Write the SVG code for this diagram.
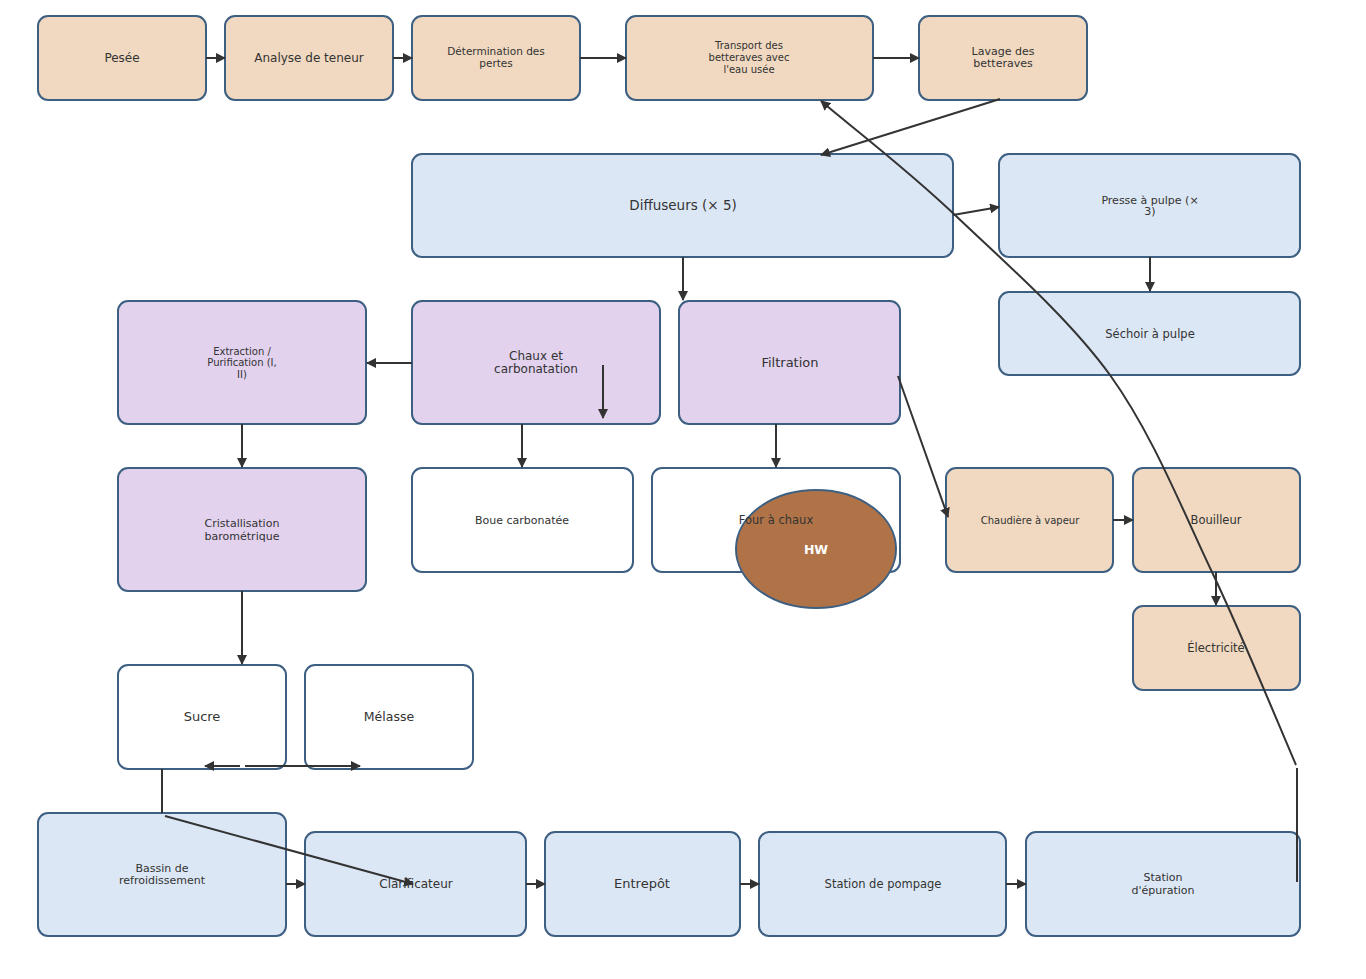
<svg xmlns="http://www.w3.org/2000/svg" width="1366" height="979" viewBox="0 0 1366 979">
<defs>
<marker id="ah" viewBox="0 0 10 10" refX="9" refY="5" markerWidth="10" markerHeight="10" markerUnits="userSpaceOnUse" orient="auto">
<path d="M0,0 L10,5 L0,10 z" fill="#333"/>
</marker>
<style>
.n{stroke:#3d5f82;stroke-width:2}
.o{fill:#f0d9c0}
.b{fill:#dce7f5}
.p{fill:#e2d2ee}
.w{fill:#ffffff}
text{font-family:"DejaVu Sans","Liberation Sans",sans-serif;fill:#333;text-anchor:middle}
.e{fill:none;stroke:#333;stroke-width:2}
</style>
</defs>
<rect width="1366" height="979" fill="#ffffff"/>
<g id="pesee"><rect class="n o" x="38" y="16" width="168" height="84" rx="10"/><text x="122" y="62" font-size="12">Pesée</text></g>
<g id="analyse"><rect class="n o" x="225" y="16" width="168" height="84" rx="10"/><text x="309" y="62" font-size="12">Analyse de teneur</text></g>
<g id="determination"><rect class="n o" x="412" y="16" width="168" height="84" rx="10"/><text x="496" y="55" font-size="10.5">Détermination des</text><text x="496" y="67" font-size="10.5">pertes</text></g>
<g id="transport"><rect class="n o" x="626" y="16" width="247" height="84" rx="10"/><text x="749" y="49" font-size="10">Transport des</text><text x="749" y="61" font-size="10">betteraves avec</text><text x="749" y="73" font-size="10">l'eau usée</text></g>
<g id="lavage"><rect class="n o" x="919" y="16" width="168" height="84" rx="10"/><text x="1003" y="55" font-size="11">Lavage des</text><text x="1003" y="67" font-size="11">betteraves</text></g>
<g id="diffuseurs"><rect class="n b" x="412" y="154" width="541" height="103" rx="10"/><text x="683" y="210" font-size="13.5">Diffuseurs (× 5)</text></g>
<g id="presse"><rect class="n b" x="999" y="154" width="301" height="103" rx="10"/><text x="1150" y="204" font-size="11">Presse à pulpe (×</text><text x="1150" y="215" font-size="11">3)</text></g>
<g id="sechoir"><rect class="n b" x="999" y="292" width="301" height="83" rx="10"/><text x="1150" y="338" font-size="11.5">Séchoir à pulpe</text></g>
<g id="extraction"><rect class="n p" x="118" y="301" width="248" height="123" rx="10"/><text x="242" y="355" font-size="10">Extraction /</text><text x="242" y="366" font-size="10">Purification (I,</text><text x="242" y="378" font-size="10">II)</text></g>
<g id="chaux"><rect class="n p" x="412" y="301" width="248" height="123" rx="10"/><text x="536" y="360" font-size="12">Chaux et</text><text x="536" y="373" font-size="12">carbonatation</text></g>
<g id="filtration"><rect class="n p" x="679" y="301" width="221" height="123" rx="10"/><text x="790" y="367" font-size="13">Filtration</text></g>
<g id="cristallisation"><rect class="n p" x="118" y="468" width="248" height="123" rx="10"/><text x="242" y="527" font-size="11">Cristallisation</text><text x="242" y="540" font-size="11">barométrique</text></g>
<g id="boue"><rect class="n w" x="412" y="468" width="221" height="104" rx="10"/><text x="522" y="524" font-size="11">Boue carbonatée</text></g>
<g id="four"><rect class="n w" x="652" y="468" width="248" height="104" rx="10"/></g>
<g id="hw"><ellipse class="n" cx="816" cy="549" rx="80" ry="59" fill="#b07348"/><text x="816" y="554" font-size="12.5" font-weight="bold" style="fill:#ffffff">HW</text></g>
<g id="four-label"><text x="776" y="524" font-size="11.5">Four à chaux</text></g>
<g id="chaudiere"><rect class="n o" x="946" y="468" width="167" height="104" rx="10"/><text x="1030" y="524" font-size="10">Chaudière à vapeur</text></g>
<g id="bouilleur"><rect class="n o" x="1133" y="468" width="167" height="104" rx="10"/><text x="1216" y="524" font-size="11.5">Bouilleur</text></g>
<g id="electricite"><rect class="n o" x="1133" y="606" width="167" height="84" rx="10"/><text x="1216" y="652" font-size="11.5">Électricité</text></g>
<g id="sucre"><rect class="n w" x="118" y="665" width="168" height="104" rx="10"/><text x="202" y="721" font-size="13">Sucre</text></g>
<g id="melasse"><rect class="n w" x="305" y="665" width="168" height="104" rx="10"/><text x="389" y="721" font-size="12.5">Mélasse</text></g>
<g id="bassin"><rect class="n b" x="38" y="813" width="248" height="123" rx="10"/><text x="162" y="872" font-size="11">Bassin de</text><text x="162" y="884" font-size="11">refroidissement</text></g>
<g id="clarificateur"><rect class="n b" x="305" y="832" width="221" height="104" rx="10"/><text x="416" y="888" font-size="12">Clarificateur</text></g>
<g id="entrepot"><rect class="n b" x="545" y="832" width="195" height="104" rx="10"/><text x="642" y="888" font-size="13">Entrepôt</text></g>
<g id="pompage"><rect class="n b" x="759" y="832" width="247" height="104" rx="10"/><text x="883" y="888" font-size="11.5">Station de pompage</text></g>
<g id="epuration"><rect class="n b" x="1026" y="832" width="274" height="104" rx="10"/><text x="1163" y="881" font-size="11">Station</text><text x="1163" y="894" font-size="11">d'épuration</text></g>
<g id="connectors">
<path class="e" d="M206,58 L225,58" marker-end="url(#ah)"/>
<path class="e" d="M393,58 L412,58" marker-end="url(#ah)"/>
<path class="e" d="M580,58 L626,58" marker-end="url(#ah)"/>
<path class="e" d="M873,58 L919,58" marker-end="url(#ah)"/>
<path class="e" d="M1000,99 L821,155" marker-end="url(#ah)"/>
<path class="e" d="M1296,765 C1282,733 1243,637 1212,572 C1181,507 1153,435 1110,375 C1067,316 1003,261 955,215 C907,169 843,120 821,101" marker-end="url(#ah)"/>
<path class="e" d="M1297,768 L1297,882"/>
<path class="e" d="M953,215 L999,207" marker-end="url(#ah)"/>
<path class="e" d="M1150,257 L1150,291" marker-end="url(#ah)"/>
<path class="e" d="M683,257 L683,300" marker-end="url(#ah)"/>
<path class="e" d="M412,363 L367,363" marker-end="url(#ah)"/>
<path class="e" d="M603,365 L603,418" marker-end="url(#ah)"/>
<path class="e" d="M242,424 L242,467" marker-end="url(#ah)"/>
<path class="e" d="M522,424 L522,467" marker-end="url(#ah)"/>
<path class="e" d="M776,424 L776,467" marker-end="url(#ah)"/>
<path class="e" d="M898,376 L948,517" marker-end="url(#ah)"/>
<path class="e" d="M1113,520 L1133,520" marker-end="url(#ah)"/>
<path class="e" d="M1216,572 L1216,605" marker-end="url(#ah)"/>
<path class="e" d="M242,591 L242,664" marker-end="url(#ah)"/>
<path class="e" d="M240,766 L205,766" marker-end="url(#ah)"/>
<path class="e" d="M245,766 L360,766" marker-end="url(#ah)"/>
<path class="e" d="M162,769 L162,813"/>
<path class="e" d="M165,816 L413,884" marker-end="url(#ah)"/>
<path class="e" d="M286,884 L305,884" marker-end="url(#ah)"/>
<path class="e" d="M526,884 L545,884" marker-end="url(#ah)"/>
<path class="e" d="M740,884 L759,884" marker-end="url(#ah)"/>
<path class="e" d="M1006,884 L1026,884" marker-end="url(#ah)"/>
</g>
</svg>
